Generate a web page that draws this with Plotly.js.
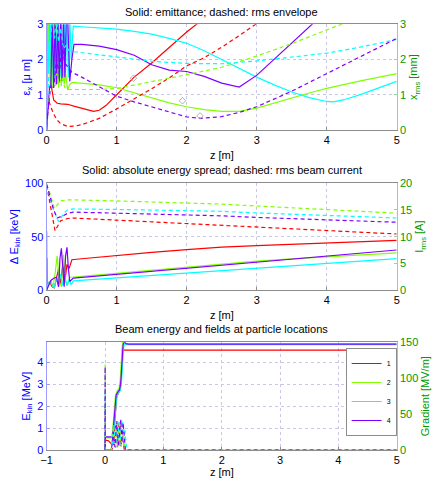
<!DOCTYPE html>
<html>
<head>
<meta charset="utf-8">
<script src="https://cdn.plot.ly/plotly-3.0.1.min.js"></script>
<style>html,body{margin:0;padding:0;background:#fff}#chart{width:433px;height:478px}</style>
</head>
<body>
<div id="chart"></div>
<script>
// ---------- Panel 1: emittance (solid, left axis) and rms envelope (dashed, right axis) ----------
const zEmit1 = [0,0.01,0.03,0.05,0.07,0.1,0.15,0.2,0.3,0.4,0.5,0.6,0.67,0.75,0.85,1.0,1.25,1.5,1.75,2.0,2.14,2.3];
const emit1  = [0,3.2,3.2,2.0,1.2,0.85,0.76,0.74,0.73,0.67,0.62,0.56,0.53,0.56,0.7,1.0,1.5,1.9,2.35,2.78,3.0,3.3];
const zEmit2 = [0,0.01,0.03,0.05,0.07,0.09,0.11,0.13,0.15,0.17,0.19,0.21,0.23,0.25,0.27,0.3,0.33,0.37,0.5,0.75,1.0,1.25,1.5,1.75,2.0,2.25,2.5,2.75,3.0,3.25,3.5,3.75,4.0,4.25,4.5,4.75,5.0];
const emit2  = [0,1.5,3.2,1.2,3.2,1.2,3.2,1.25,3.2,1.2,2.8,1.25,2.2,1.3,1.6,1.14,1.3,1.35,1.33,1.28,1.2,1.06,0.9,0.77,0.66,0.58,0.53,0.53,0.62,0.77,0.92,1.05,1.18,1.3,1.4,1.5,1.6];
const zEmit3 = [0,0.01,0.03,0.05,0.07,0.09,0.11,0.13,0.15,0.17,0.19,0.21,0.23,0.25,0.27,0.29,0.31,0.33,0.35,0.38,0.5,0.75,1.0,1.25,1.5,1.75,2.0,2.25,2.5,2.75,3.0,3.25,3.5,3.75,4.0,4.1,4.25,4.5,4.75,5.0];
const emit3  = [0.3,3.2,1.6,3.2,1.3,3.2,1.4,3.2,1.3,3.2,1.5,3.2,1.4,3.2,1.6,3.2,1.5,3.2,2.0,2.95,2.93,2.9,2.86,2.8,2.72,2.6,2.46,2.25,2.0,1.75,1.5,1.28,1.08,0.92,0.81,0.8,0.86,1.02,1.2,1.38];
const zEmit4 = [0,0.02,0.04,0.06,0.08,0.1,0.12,0.14,0.16,0.18,0.2,0.22,0.24,0.26,0.28,0.3,0.33,0.36,0.39,0.5,0.75,1.0,1.25,1.5,1.75,2.0,2.25,2.5,2.75,3.0,3.25,3.5,3.75,3.9];
const emit4  = [0,0.8,1.2,1.3,3.2,1.25,3.2,1.3,3.2,1.35,3.2,1.4,3.2,1.5,3.2,3.2,1.38,2.0,2.43,2.43,2.38,2.28,2.12,1.85,1.7,1.66,1.52,1.33,1.22,1.55,2.0,2.45,2.92,3.2];

const zEnv1 = [0,0.02,0.05,0.1,0.15,0.2,0.3,0.4,0.5,0.75,1.0,1.25,1.5,1.75,2.0,2.25,2.5,2.75,3.0,3.25];
const env1  = [0.2,0.9,0.7,0.45,0.28,0.18,0.1,0.11,0.15,0.33,0.6,0.88,1.17,1.48,1.82,2.05,2.35,2.68,3.02,3.3];
const zEnv2 = [0,0.03,0.06,0.1,0.14,0.18,0.22,0.26,0.3,0.4,0.75,1.0,1.25,1.5,1.75,2.0,2.5,3.0,3.5,4.0,4.4,4.6];
const env2  = [0.2,0.9,1.3,1.2,1.6,1.3,1.5,1.2,1.15,1.15,1.15,1.18,1.27,1.38,1.47,1.57,1.78,2.1,2.45,2.84,3.15,3.3];
const zEnv3 = [0,0.02,0.05,0.08,0.11,0.14,0.17,0.2,0.24,0.28,0.32,0.4,0.75,1.0,1.5,2.0,2.5,3.0,3.5,4.0,4.5,5.0];
const env3  = [0.2,1.0,2.5,3.2,2.6,3.2,2.5,2.9,2.3,2.4,2.25,2.22,2.13,2.06,1.95,1.89,1.88,1.96,2.06,2.18,2.36,2.57];
const zEnv4 = [0,0.03,0.06,0.1,0.14,0.18,0.22,0.26,0.3,0.36,0.5,0.75,1.0,1.25,1.5,1.75,2.0,2.2,2.5,2.75,3.0,3.5,4.0,4.5,5.0];
const env4  = [0.2,0.8,1.3,1.2,2.0,1.6,2.4,1.9,1.8,1.64,1.5,1.22,0.96,0.8,0.66,0.5,0.37,0.33,0.38,0.5,0.66,1.1,1.6,2.1,2.6];

const waistZ = [1.24,1.94,2.19];
const waistV = [1.47,0.83,0.40];

// ---------- Panel 2: energy spread (solid, left) and rms current (dashed, right) ----------
const zSpr1 = [0,0.005,0.01,0.04,0.08,0.11,0.14,0.17,0.2,0.23,0.26,0.29,0.32,0.36,0.5,1,1.5,2,2.5,3,3.5,4,4.5,5];
const spr1  = [0,30,3,8,3,2,10,20,5,25,8,24,20,28.4,29.3,32.6,35.3,37.9,40.2,41.5,42.8,44,45.3,46.6];
const zSpr2 = [0,0.03,0.06,0.09,0.12,0.15,0.18,0.21,0.24,0.27,0.3,0.33,0.38,1,1.5,2,2.5,3,3.5,4,4.5,5];
const spr2  = [0,6,9,3,15,32,8,3,33,8,5,12,12.2,15.8,18.8,21.8,24.4,27,29.2,31.2,33.1,34.8];
const zSpr3 = [0,0.003,0.006,0.04,0.08,0.11,0.14,0.17,0.2,0.23,0.26,0.29,0.32,0.35,0.38,1,2,3,4,5];
const spr3  = [0,55,2,8,4,2,12,3,15,4,12,4,10,5,8.5,11.3,15.9,20.4,25,29.5];
const zSpr4 = [0,0.03,0.06,0.1,0.14,0.17,0.19,0.21,0.23,0.25,0.27,0.29,0.31,0.33,0.38,1,2,3,4,5];
const spr4  = [0,5,9,11,12,3,30,39,15,3,32,40,20,8,11.2,14.7,20.4,26.1,31.8,37.5];

const zCur1 = [0,0.05,0.12,0.2,0.3,0.38,1,1.5,2,2.5,3,3.5,4,4.5,5];
const cur1  = [19.6,16,11.1,13.0,13.4,13.5,13.1,12.7,12.4,12.05,11.7,11.4,11.1,10.8,10.5];
const zCur2 = [0,0.05,0.11,0.2,0.3,0.38,1,2,2.5,3,4,5];
const cur2  = [19.8,18,15.3,16.7,16.9,16.9,16.7,16.35,16.1,15.75,15.1,14.4];
const zCur3 = [0,0.1,0.17,0.25,0.3,0.38,1,2,2.5,3,4,5];
const cur3  = [19.5,15,12.8,14.5,15.0,15.2,15.1,14.9,14.75,14.45,14.0,13.5];
const zCur4 = [0,0.1,0.15,0.25,0.3,0.38,1,2,2.5,3,4,5];
const cur4  = [19.8,15,13.5,14.0,14.4,14.6,14.4,14.1,13.9,13.6,13.15,12.7];

// ---------- Panel 3: beam energy (solid, left) and field gradient (dashed, right) ----------
const particleNames = ['1','2','3','4'];
const zE1 = [0,0.005,0.06,0.1,0.14,0.17,0.2,0.23,0.26,0.28,0.3,0.33,0.4,5];
const en1 = [0,0.45,0.42,0.3,0.4,1.3,2.4,2.6,2.75,3.3,4.6,4.55,4.55,4.55];
const zE2 = [0,0.005,0.12,0.15,0.18,0.21,0.24,0.26,0.3,0.32,0.35,0.4,5];
const en2 = [0,0.55,0.55,1.5,2.5,2.7,2.8,3.2,4.9,5.0,4.86,4.84,4.84];
const zE3 = [0,0.005,0.14,0.17,0.2,0.23,0.26,0.28,0.32,0.34,0.37,0.4,5];
const en3 = [0,0.58,0.58,1.4,2.4,2.6,2.7,3.0,4.7,4.85,4.8,4.8,4.8];
const zE4 = [0,0.005,0.13,0.16,0.19,0.22,0.25,0.27,0.31,0.33,0.36,0.4,5];
const en4 = [0,0.6,0.6,1.5,2.5,2.65,2.75,3.1,4.8,4.95,4.85,4.83,4.83];

const zG1 = [0,0.002,0.004,0.12,0.15,0.18,0.21,0.24,0.27,0.3,0.33,5];
const gr1 = [0,60,0,0,10,35,4,38,5,20,0,0];
const zG2 = [0,0.002,0.004,0.1,0.13,0.16,0.19,0.22,0.25,0.28,0.31,0.34,0.37,5];
const gr2 = [0,119,0,0,30,5,38,3,40,5,35,0,0,0];
const zG3 = [0,0.002,0.004,0.12,0.15,0.18,0.22,0.25,0.29,0.32,0.34,0.37,5];
const gr3 = [0,80,0,0,35,3,40,4,42,6,30,0,0];
const zG4 = [0,0.002,0.004,0.11,0.14,0.17,0.2,0.23,0.27,0.29,0.31,0.35,5];
const gr4 = [0,116,0,0,25,4,40,5,42,10,38,0,0];

// ---------- styling ----------
const COL = ['#ff0000','#80ff00','#00ffff','#8000ff'];
const BLUE = '#0000ff';
const GREEN = '#009900';
const FONT = 'Liberation Sans, Arial, sans-serif';
const DASH = '4px,3px';
const LW = 1.2;

function tr(x, y, xa, ya, color, dashed, extra) {
  return Object.assign({
    type: 'scatter', mode: 'lines', x: x, y: y, xaxis: xa, yaxis: ya,
    line: {color: color, width: LW, dash: dashed ? DASH : 'solid'},
    showlegend: false, hoverinfo: 'skip'
  }, extra || {});
}

const data = [
  // panel 1
  tr(zEmit1, emit1, 'x', 'y', COL[0], false),
  tr(zEmit2, emit2, 'x', 'y', COL[1], false),
  tr(zEmit3, emit3, 'x', 'y', COL[2], false),
  tr(zEmit4, emit4, 'x', 'y', COL[3], false),
  tr(zEnv1, env1, 'x', 'y2', COL[0], true),
  tr(zEnv2, env2, 'x', 'y2', COL[1], true),
  tr(zEnv3, env3, 'x', 'y2', COL[2], true),
  tr(zEnv4, env4, 'x', 'y2', COL[3], true),
  {type:'scatter', mode:'markers', x: waistZ, y: waistV, xaxis:'x', yaxis:'y2',
   marker:{symbol:'diamond-open', size:5, color:'#a0a0a0', line:{width:0.8}}, showlegend:false, hoverinfo:'skip'},
  // panel 2
  tr(zSpr1, spr1, 'x2', 'y3', COL[0], false),
  tr(zSpr2, spr2, 'x2', 'y3', COL[1], false),
  tr(zSpr3, spr3, 'x2', 'y3', COL[2], false),
  tr(zSpr4, spr4, 'x2', 'y3', COL[3], false),
  tr(zCur1, cur1, 'x2', 'y4', COL[0], true),
  tr(zCur2, cur2, 'x2', 'y4', COL[1], true),
  tr(zCur3, cur3, 'x2', 'y4', COL[2], true),
  tr(zCur4, cur4, 'x2', 'y4', COL[3], true),
  // panel 3
  tr(zG1, gr1, 'x3', 'y6', COL[0], true),
  tr(zG2, gr2, 'x3', 'y6', COL[1], true),
  tr(zG3, gr3, 'x3', 'y6', COL[2], true),
  tr(zG4, gr4, 'x3', 'y6', COL[3], true),
  tr(zE1, en1, 'x3', 'y5', COL[0], false, {showlegend:true, name: particleNames[0]}),
  tr(zE2, en2, 'x3', 'y5', COL[1], false, {showlegend:true, name: particleNames[1]}),
  tr(zE3, en3, 'x3', 'y5', COL[2], false, {showlegend:true, name: particleNames[2]}),
  tr(zE4, en4, 'x3', 'y5', COL[3], false, {showlegend:true, name: particleNames[3]})
];

const XD = [0.1078, 0.9162];
const YD = [[0.728, 0.9492], [0.3933, 0.6165], [0.0586, 0.2839]];
const GRID = '#c8c8e6';

function xax(anchor, range, dtick) {
  return {domain: XD, anchor: anchor, range: range, dtick: dtick, tick0: 0,
    showgrid: true, gridcolor: GRID, griddash: 'dot', gridwidth: 1,
    showline: true, linecolor: '#8c8c8c', linewidth: 1, mirror: true,
    ticks: 'inside', ticklen: 3, tickcolor: '#8c8c8c',
    tickfont: {family: FONT, size: 11, color: '#000'}, zeroline: false, automargin: false};
}
function yl(anchor, dom, range, dtick, title) {
  return {domain: dom, anchor: anchor, range: range, dtick: dtick, tick0: 0,
    showgrid: true, gridcolor: GRID, griddash: 'dot', gridwidth: 1,
    showline: true, linecolor: '#9a9aff', linewidth: 1,
    ticks: 'inside', ticklen: 3, tickcolor: '#9a9aff',
    tickfont: {family: FONT, size: 11, color: BLUE}, zeroline: false, automargin: false,
    title: {text: title, font: {family: FONT, size: 11, color: BLUE}, standoff: 4}};
}
function yr(anchor, over, range, dtick, title) {
  return {overlaying: over, side: 'right', anchor: anchor, range: range, dtick: dtick, tick0: 0,
    showgrid: false, showline: true, linecolor: '#9ad09a', linewidth: 1,
    ticks: 'inside', ticklen: 3, tickcolor: '#9ad09a',
    tickfont: {family: FONT, size: 11, color: GREEN}, zeroline: false, automargin: false,
    title: {text: title, font: {family: FONT, size: 11, color: GREEN}, standoff: 4}};
}

const xc = (XD[0] + XD[1]) / 2;
function ann(text, y) {
  return {text: text, x: xc, y: y, xref: 'paper', yref: 'paper', showarrow: false,
    xanchor: 'center', yanchor: 'middle', font: {family: FONT, size: 11, color: '#000'}};
}

const layout = {
  width: 433, height: 478,
  margin: {l: 0, r: 0, t: 0, b: 0},
  paper_bgcolor: '#fff', plot_bgcolor: '#fff',
  font: {family: FONT, size: 11},
  xaxis: xax('y', [0, 5], 1),
  yaxis: yl('x', YD[0], [0, 3], 1, 'ε<sub>x</sub> [μ m]'),
  yaxis2: yr('x', 'y', [0, 3], 1, 'x<sub>rms</sub> [mm]'),
  xaxis2: xax('y3', [0, 5], 1),
  yaxis3: yl('x2', YD[1], [0, 100], 50, 'Δ E<sub>kin</sub> [keV]'),
  yaxis4: yr('x2', 'y3', [0, 20], 5, 'I<sub>rms</sub> [A]'),
  xaxis3: xax('y5', [-1, 5], 1),
  yaxis5: yl('x3', YD[2], [0, 4.91], 1, 'E<sub>kin</sub> [MeV]'),
  yaxis6: yr('x3', 'y5', [0, 150], 50, 'Gradient [MV/m]'),
  showlegend: true,
  legend: {x: 0.916, y: 0.272, xanchor: 'right', yanchor: 'top',
    bgcolor: '#fff', bordercolor: '#8c8c8c', borderwidth: 1,
    font: {family: FONT, size: 7, color: '#000'}, tracegroupgap: 0, itemwidth: 30},
  annotations: [
    ann('Solid: emittance; dashed: rms envelope', 0.975),
    ann('z [m]', 0.676),
    ann('Solid: absolute energy spread; dashed: rms beam current', 0.644),
    ann('z [m]', 0.341),
    ann('Beam energy and fields at particle locations', 0.312),
    ann('z [m]', 0.0126)
  ]
};

Plotly.newPlot('chart', data, layout, {staticPlot: true, displayModeBar: false});
</script>
</body>
</html>
